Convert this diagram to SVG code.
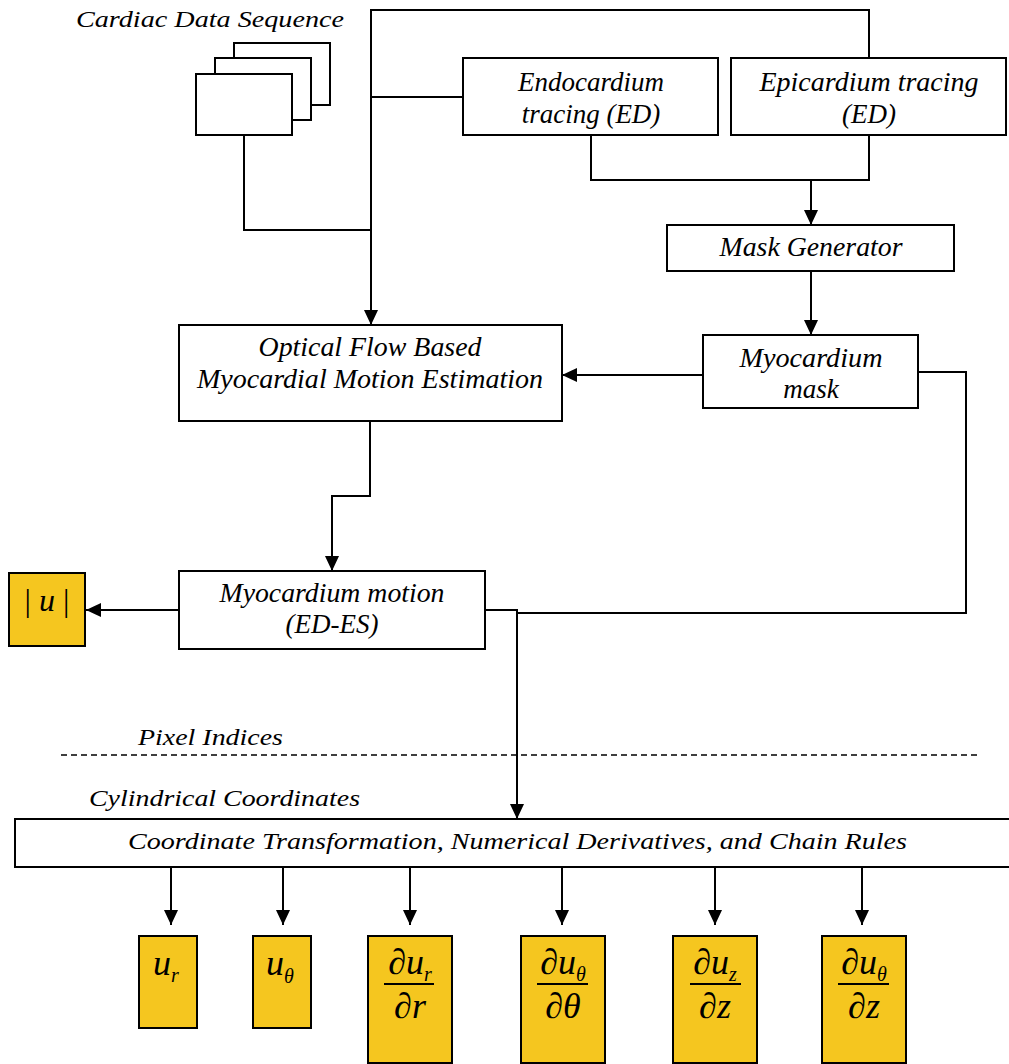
<svg xmlns="http://www.w3.org/2000/svg" width="1009" height="1064" viewBox="0 0 1009 1064">
<style>
.box{fill:#fff;stroke:#000;stroke-width:2}
.ybox{fill:#F5C61F;stroke:#000;stroke-width:2}
.ln{fill:none;stroke:#000;stroke-width:2}
</style>
<defs>
<marker id="ah" markerUnits="userSpaceOnUse" markerWidth="15" markerHeight="14" refX="15" refY="7" orient="auto">
<path d="M0,0 L15,7 L0,14 z" fill="#000"/>
</marker>
</defs>
<rect width="1009" height="1064" fill="#fff"/>

<g id="connectors">
<path class="ln" d="M244,135 V230 H371"/>
<path class="ln" d="M869,58 V10 H371 V325" marker-end="url(#ah)"/>
<path class="ln" d="M463,97 H371"/>
<path class="ln" d="M591,135 V180 H869 V135"/>
<path class="ln" d="M811,180 V225" marker-end="url(#ah)"/>
<path class="ln" d="M811,271 V335" marker-end="url(#ah)"/>
<path class="ln" d="M703,375 H562" marker-end="url(#ah)"/>
<path class="ln" d="M918,372 H966 V613 H517"/>
<path class="ln" d="M485,610 H517 V819" marker-end="url(#ah)"/>
<path class="ln" d="M370,421 V496 H332 V571" marker-end="url(#ah)"/>
<path class="ln" d="M179,610 H86" marker-end="url(#ah)"/>
<path class="ln" d="M171,867 V925" marker-end="url(#ah)"/>
<path class="ln" d="M283,867 V925" marker-end="url(#ah)"/>
<path class="ln" d="M410,867 V925" marker-end="url(#ah)"/>
<path class="ln" d="M562,867 V925" marker-end="url(#ah)"/>
<path class="ln" d="M715,867 V925" marker-end="url(#ah)"/>
<path class="ln" d="M862,867 V925" marker-end="url(#ah)"/>
</g>

<g id="separator">
<path d="M61,755 H981" fill="none" stroke="#000" stroke-width="1.6" stroke-dasharray="6,4"/>
<text font-family="Liberation Serif" font-style="italic" font-size="23" x="138" y="745" textLength="145" lengthAdjust="spacingAndGlyphs">Pixel Indices</text>
<text font-family="Liberation Serif" font-style="italic" font-size="23" x="89" y="806" textLength="271" lengthAdjust="spacingAndGlyphs">Cylindrical Coordinates</text>
</g>

<g id="cardiac-data">
<rect class="box" x="234" y="43" width="96" height="62"/>
<rect class="box" x="215" y="58" width="96" height="62"/>
<rect class="box" x="196" y="74" width="96" height="61"/>
<text font-family="Liberation Serif" font-style="italic" font-size="24" x="76" y="27" textLength="268" lengthAdjust="spacingAndGlyphs">Cardiac Data Sequence</text>
</g>

<g id="endocardium">
<rect class="box" x="463" y="58" width="255" height="77"/>
<text font-family="Liberation Serif" font-style="italic" font-size="27" text-anchor="middle" x="591" y="91">Endocardium</text>
<text font-family="Liberation Serif" font-style="italic" font-size="27" text-anchor="middle" x="591" y="123">tracing (ED)</text>
</g>

<g id="epicardium">
<rect class="box" x="731" y="58" width="275" height="77"/>
<text font-family="Liberation Serif" font-style="italic" font-size="27" text-anchor="middle" x="869" y="91" textLength="219" lengthAdjust="spacingAndGlyphs">Epicardium tracing</text>
<text font-family="Liberation Serif" font-style="italic" font-size="27" text-anchor="middle" x="869" y="123">(ED)</text>
</g>

<g id="mask-generator">
<rect class="box" x="667" y="225" width="287" height="46"/>
<text font-family="Liberation Serif" font-style="italic" font-size="27" text-anchor="middle" x="811" y="256" textLength="183" lengthAdjust="spacingAndGlyphs">Mask Generator</text>
</g>

<g id="myocardium-mask">
<rect class="box" x="703" y="335" width="215" height="73"/>
<text font-family="Liberation Serif" font-style="italic" font-size="27" text-anchor="middle" x="811" y="367" textLength="143" lengthAdjust="spacingAndGlyphs">Myocardium</text>
<text font-family="Liberation Serif" font-style="italic" font-size="27" text-anchor="middle" x="811" y="398">mask</text>
</g>

<g id="optical-flow">
<rect class="box" x="179" y="325" width="383" height="96"/>
<text font-family="Liberation Serif" font-style="italic" font-size="27" text-anchor="middle" x="370" y="356" textLength="223" lengthAdjust="spacingAndGlyphs">Optical Flow Based</text>
<text font-family="Liberation Serif" font-style="italic" font-size="27" text-anchor="middle" x="370" y="388" textLength="346" lengthAdjust="spacingAndGlyphs">Myocardial Motion Estimation</text>
</g>

<g id="myocardium-motion">
<rect class="box" x="179" y="571" width="306" height="78"/>
<text font-family="Liberation Serif" font-style="italic" font-size="27" text-anchor="middle" x="332" y="602" textLength="225" lengthAdjust="spacingAndGlyphs">Myocardium motion</text>
<text font-family="Liberation Serif" font-style="italic" font-size="27" text-anchor="middle" x="332" y="633">(ED-ES)</text>
</g>

<g id="abs-u">
<rect class="ybox" x="9" y="573" width="76" height="73"/>
<text font-family="Liberation Serif" font-style="italic" font-size="32" text-anchor="middle" x="47" y="611"><tspan font-style="normal">| </tspan>u<tspan font-style="normal"> |</tspan></text>
</g>

<g id="coord-transform">
<rect class="box" x="15" y="819" width="1000" height="48"/>
<text font-family="Liberation Serif" font-style="italic" font-size="23" x="128" y="849" textLength="779" lengthAdjust="spacingAndGlyphs">Coordinate Transformation, Numerical Derivatives, and Chain Rules</text>
</g>

<g id="u-r">
<rect class="ybox" x="139" y="936" width="58" height="92"/>
<text font-family="Liberation Serif" font-style="italic" font-size="36" x="153" y="975">u<tspan font-size="20" dy="7">r</tspan></text>
</g>

<g id="u-theta">
<rect class="ybox" x="253" y="936" width="58" height="92"/>
<text font-family="Liberation Serif" font-style="italic" font-size="36" x="266" y="975">u<tspan font-size="20" dy="8">&#952;</tspan></text>
</g>

<g id="dur-dr">
<rect class="ybox" x="368" y="936" width="84" height="127"/>
<text font-family="Liberation Serif" font-style="italic" font-size="36" text-anchor="middle" x="410" y="974">&#8706;u<tspan font-size="20" dy="7">r</tspan></text>
<path d="M384,984 H434" stroke="#000" stroke-width="2"/>
<text font-family="Liberation Serif" font-style="italic" font-size="36" text-anchor="middle" x="410" y="1018">&#8706;r</text>
</g>

<g id="dutheta-dtheta">
<rect class="ybox" x="521" y="936" width="84" height="127"/>
<text font-family="Liberation Serif" font-style="italic" font-size="36" text-anchor="middle" x="563" y="974">&#8706;u<tspan font-size="20" dy="7">&#952;</tspan></text>
<path d="M537,984 H588" stroke="#000" stroke-width="2"/>
<text font-family="Liberation Serif" font-style="italic" font-size="36" text-anchor="middle" x="563" y="1018">&#8706;&#952;</text>
</g>

<g id="duz-dz">
<rect class="ybox" x="673" y="936" width="84" height="127"/>
<text font-family="Liberation Serif" font-style="italic" font-size="36" text-anchor="middle" x="715" y="974">&#8706;u<tspan font-size="20" dy="7">z</tspan></text>
<path d="M690,984 H741" stroke="#000" stroke-width="2"/>
<text font-family="Liberation Serif" font-style="italic" font-size="36" text-anchor="middle" x="715" y="1018">&#8706;z</text>
</g>

<g id="dutheta-dz">
<rect class="ybox" x="822" y="936" width="84" height="127"/>
<text font-family="Liberation Serif" font-style="italic" font-size="36" text-anchor="middle" x="864" y="974">&#8706;u<tspan font-size="20" dy="7">&#952;</tspan></text>
<path d="M838,984 H889" stroke="#000" stroke-width="2"/>
<text font-family="Liberation Serif" font-style="italic" font-size="36" text-anchor="middle" x="864" y="1018">&#8706;z</text>
</g>
</svg>
